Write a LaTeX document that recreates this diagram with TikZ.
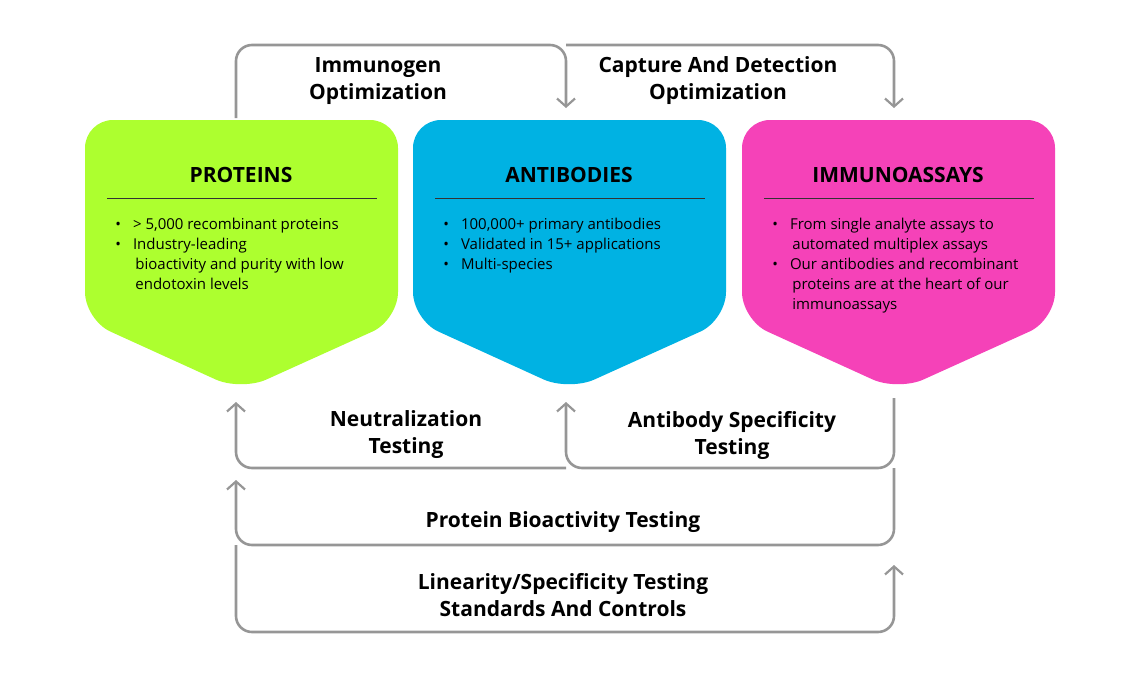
\documentclass[tikz,border=0pt]{standalone}
\usepackage{fontspec}
\setmainfont{Open Sans}
\usetikzlibrary{arrows.meta}
\definecolor{cgreen}{RGB}{173,255,47}
\definecolor{cblue}{RGB}{0,178,227}
\definecolor{cpink}{RGB}{245,66,184}
\definecolor{cline}{RGB}{150,150,150}
\begin{document}
\begin{tikzpicture}[x=0.5pt, y=-0.5pt,
                    card/.style={rounded corners=14pt},
                    flow/.style={cline, line width=1.3pt, rounded corners=8pt},
                    tip/.style={-{Straight Barb[length=4pt,width=9pt,line width=1.1pt]}},
                    label/.style={font=\fontsize{10.5}{13.5}\selectfont\bfseries, align=center},
                    head/.style={font=\fontsize{10.5}{13}\selectfont\bfseries},
                    items/.style={font=\fontsize{7.5}{10}\selectfont, align=left, anchor=north west, inner sep=0pt}]
  \useasboundingbox (0,0) rectangle (1140,680);
  % cards
  \foreach \xl/\col in {85/cgreen, 413/cblue, 742/cpink}{
    \fill[\col, card] (\xl,320) -- (\xl,120) -- (\xl+313,120) -- (\xl+313,320)
      -- (\xl+156,391) -- cycle;
    \draw[black!80, line width=0.5pt] (\xl+22,198) -- (\xl+292,198);
  }
  \node[head] (proteins) at (241,175) {PROTEINS};
  \node[head] (antibodies) at (569,175) {ANTIBODIES};
  \node[head] (assays) at (898,175) {IMMUNOASSAYS};
  \node[items] (protItems) at (115,218) {\textbullet\hspace{6pt}> 5,000 recombinant proteins\\
    \textbullet\hspace{6pt}Industry-leading\\\hspace{10pt}bioactivity and purity with low\\\hspace{10pt}endotoxin levels};
  \node[items] (abItems) at (443,218) {\textbullet\hspace{6pt}100,000+ primary antibodies\\
    \textbullet\hspace{6pt}Validated in 15+ applications\\\textbullet\hspace{6pt}Multi-species};
  \node[items] (assayItems) at (772,218) {\textbullet\hspace{6pt}From single analyte assays to\\
    \hspace{10pt}automated multiplex assays\\\textbullet\hspace{6pt}Our antibodies and recombinant\\
    \hspace{10pt}proteins are at the heart of our\\\hspace{10pt}immunoassays};
  % anchor points of the loops
  \coordinate (protTop) at (236,118);
  \coordinate (abTop) at (566,108);
  \coordinate (assayTop) at (894,108);
  \coordinate (protBot) at (236,402);
  \coordinate (abBot) at (566,402);
  \coordinate (assayBot) at (894,398);
  % loops above
  \draw[flow, tip] (protTop) |- (566,45) -- (abTop);
  \draw[flow, tip] (566,45) -| (assayTop);
  % loops below
  \draw[flow, tip] (566,468) -| (protBot);
  \draw[flow, tip] (assayBot) |- (abBot |- 0,468) -- (abBot);
  \draw[flow, tip] (assayBot |- 0,468) |- (236,545) -- (236,480);
  \draw[flow, tip] (236,545) |- (894,632) -- (894,565);
  % labels
  \node[label] (immunogen) at (378,81) {Immunogen\\Optimization};
  \node[label] (capture) at (718,81) {Capture And Detection\\Optimization};
  \node[label] (neutral) at (406,435) {Neutralization\\Testing};
  \node[label] (specific) at (732,435) {Antibody Specificity\\Testing};
  \node[label] (bioact) at (563,522) {Protein Bioactivity Testing};
  \node[label] (linear) at (563,595) {Linearity/Specificity Testing\\Standards And Controls};
\end{tikzpicture}
\end{document}
